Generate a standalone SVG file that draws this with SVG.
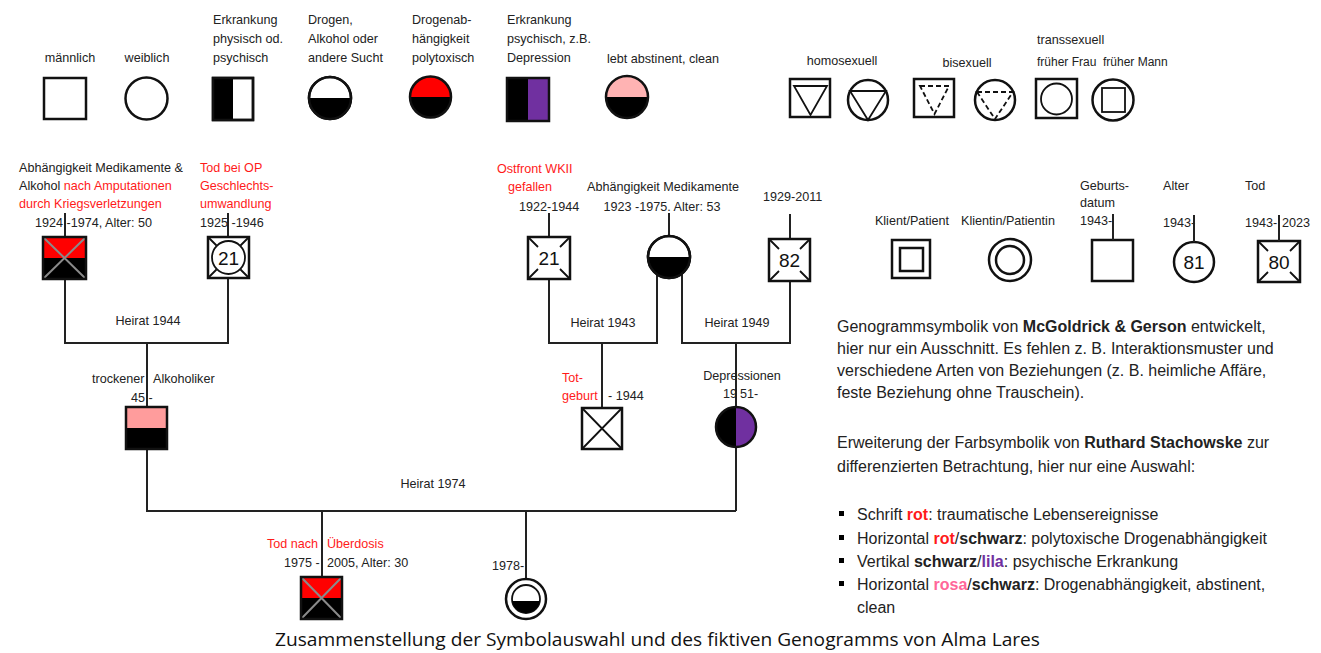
<svg xmlns="http://www.w3.org/2000/svg" width="1321" height="653" viewBox="0 0 1321 653">
<style>
.t{font-family:"Liberation Sans",Arial,sans-serif;font-size:12.6px;fill:#222}
.m{text-anchor:middle}
.r{fill:#ff1a1a}
.sm{font-size:12px}
.num{font-family:"Liberation Sans",Arial,sans-serif;font-size:19px;fill:#111;text-anchor:middle}
.sym{fill:#fff;stroke:#111;stroke-width:2.5}
.so{fill:none;stroke:#111;stroke-width:2.5}
.thin{fill:none;stroke:#111;stroke-width:1.8}
.dash{fill:none;stroke:#111;stroke-width:1.8;stroke-dasharray:5 3}
.ln{stroke:#222;stroke-width:2;fill:none}
.gx{stroke:#8a8a8a;stroke-width:2}
.blk{fill:#000}
.red{fill:#ff0000}
.pink{fill:#ffb3b3}
.pink2{fill:#ff9c9c}
.pur{fill:#7030a0}
.b{font-size:16px}
.bd{font-weight:bold}
</style>
<rect width="1321" height="653" fill="#fff"/>

<!-- Legend top -->
<g id="leg-maennlich">
<text class="t m" x="70" y="62">männlich</text>
<rect class="sym" x="44" y="78" width="42" height="41"/>
</g>
<g id="leg-weiblich">
<text class="t m" x="147" y="62">weiblich</text>
<circle class="sym" cx="146.5" cy="98.5" r="21"/>
</g>
<g id="leg-erkrankung">
<text class="t" x="213" y="24">Erkrankung</text>
<text class="t" x="213" y="43">physisch od.</text>
<text class="t" x="213" y="62">psychisch</text>
<rect class="sym" x="213" y="78" width="40" height="42"/>
<rect class="blk" x="213" y="78" width="20" height="42"/>
<rect class="so" x="213" y="78" width="40" height="42"/>
</g>
<g id="leg-sucht">
<text class="t" x="308" y="24">Drogen,</text>
<text class="t" x="308" y="43">Alkohol oder</text>
<text class="t" x="308" y="62">andere Sucht</text>
<circle class="sym" cx="330" cy="98" r="21"/>
<path class="blk" d="M309,98 A21,21 0 0 0 351,98 Z"/>
<circle class="so" cx="330" cy="98" r="21"/>
</g>
<g id="leg-polytox">
<text class="t" x="412" y="24">Drogenab-</text>
<text class="t" x="412" y="43">hängigkeit</text>
<text class="t" x="412" y="62">polytoxisch</text>
<path class="red" d="M410,97 A20.5,20.5 0 0 1 451,97 Z"/>
<path class="blk" d="M410,97 A20.5,20.5 0 0 0 451,97 Z"/>
<circle class="so" cx="430.5" cy="97" r="20.5"/>
</g>
<g id="leg-depression">
<text class="t" x="507" y="24">Erkrankung</text>
<text class="t" x="507" y="43">psychisch, z.B.</text>
<text class="t" x="507" y="62">Depression</text>
<rect class="blk" x="507" y="78" width="21" height="43"/>
<rect class="pur" x="528" y="78" width="21" height="43"/>
<rect class="so" x="507" y="78" width="42" height="43"/>
</g>
<g id="leg-abstinent">
<text class="t" x="607" y="63">lebt abstinent, clean</text>
<path class="pink" d="M606,97 A21,21 0 0 1 648,97 Z"/>
<path class="blk" d="M606,97 A21,21 0 0 0 648,97 Z"/>
<circle class="so" cx="627" cy="97" r="21"/>
</g>
<g id="leg-homo">
<text class="t m" x="842" y="65">homosexuell</text>
<rect class="sym" x="790" y="79" width="40" height="38"/>
<path class="thin" d="M794,86 L827,86 L810.5,115 Z"/>
<circle class="sym" cx="868" cy="100" r="20"/>
<path class="thin" d="M850,91 L886,91 L868,120 Z"/>
</g>
<g id="leg-bi">
<text class="t m" x="967" y="67">bisexuell</text>
<rect class="sym" x="914" y="79" width="40" height="38"/>
<path class="dash" d="M920,86 L949,86 L934.5,114 Z"/>
<circle class="sym" cx="995" cy="100" r="20"/>
<path class="dash" d="M977,92 L1013,92 L995,119 Z"/>
</g>
<g id="leg-trans">
<text class="t" x="1037" y="44">transsexuell</text>
<text class="t sm" x="1037" y="66">früher Frau</text>
<rect class="sym" x="1036" y="79" width="41" height="39"/>
<circle class="thin" cx="1056.5" cy="99" r="15.5"/>
<text class="t sm" x="1103" y="66">früher Mann</text>
<circle class="sym" cx="1113" cy="100" r="20.5"/>
<rect class="thin" x="1102" y="88" width="23" height="24"/>
</g>

<!-- Right legend -->
<g id="leg-klient">
<text class="t m" x="912" y="225">Klient/Patient</text>
<rect class="sym" x="892" y="240" width="38" height="38"/>
<rect class="so" x="900" y="248" width="23" height="23"/>
</g>
<g id="leg-klientin">
<text class="t m" x="1008" y="225">Klientin/Patientin</text>
<circle class="sym" cx="1010" cy="260" r="21"/>
<circle class="so" cx="1010" cy="260" r="14"/>
</g>
<g id="leg-geburt">
<text class="t" x="1080" y="190">Geburts-</text>
<text class="t" x="1080" y="207">datum</text>
<text class="t" x="1080" y="225">1943-</text>
<rect class="sym" x="1092" y="240" width="41" height="41"/>
</g>
<g id="leg-alter">
<text class="t" x="1163" y="190">Alter</text>
<text class="t" x="1163" y="227">1943-</text>
<circle class="sym" cx="1194" cy="262" r="20"/>
<text class="num" x="1194" y="269">81</text>
</g>
<g id="leg-tod">
<text class="t" x="1245" y="190">Tod</text>
<text class="t" x="1245" y="227">1943-<tspan x="1282">2023</tspan></text>
<rect class="sym" x="1258" y="241" width="42" height="41"/>
<path class="thin" d="M1258,241 L1268,251 M1300,241 L1290,251 M1258,282 L1268,272 M1300,282 L1290,272"/>
<text class="num" x="1279" y="269">80</text>
</g>

<!-- Connectors -->
<g id="connectors" class="ln">
<path d="M65,213 V237 M65,279 V343 H228 V278 M228,213 V237"/>
<path d="M147,343 V407 M147,449 V511 H736"/>
<path d="M322,511 V577 M526,511 V579"/>
<path d="M549,213 V237 M549,279 V343 H657 V274"/>
<path d="M669,213 V236"/>
<path d="M682,274 V343 H790 V281 M790,214 V239"/>
<path d="M602,343 V408"/>
<path d="M736,343 V407 M736,447 V511"/>
<path d="M1113,214 V240 M1194,215 V242 M1279,215 V241"/>
</g>

<!-- Family -->
<g id="n-grossvater-vater">
<text class="t" x="19" y="172">Abhängigkeit Medikamente &amp;</text>
<text class="t" x="19" y="190">Alkohol <tspan class="r">nach Amputationen</tspan></text>
<text class="t r" x="19" y="208">durch Kriegsverletzungen</text>
<text class="t" x="35" y="227">1924 -1974, Alter: 50</text>
<rect class="blk" x="43" y="237" width="43" height="42"/>
<rect class="red" x="43" y="237" width="43" height="21"/>
<path class="gx" d="M43,237 L86,279 M86,237 L43,279"/>
<rect class="so" x="43" y="237" width="43" height="42"/>
</g>
<g id="n-grossmutter-vater">
<text class="t r" x="200" y="172">Tod bei OP</text>
<text class="t r" x="200" y="190">Geschlechts-</text>
<text class="t r" x="200" y="208">umwandlung</text>
<text class="t" x="200" y="227">1925 -1946</text>
<rect class="sym" x="208" y="237" width="41" height="41"/>
<circle class="thin" cx="228.5" cy="257.5" r="16.5"/>
<path class="thin" d="M208,237 L216.5,245.5 M249,237 L240.5,245.5 M208,278 L216.5,269.5 M249,278 L240.5,269.5"/>
<text class="num" x="228.5" y="264.5">21</text>
</g>
<g id="m-heirat1944">
<text class="t m" x="148" y="325">Heirat 1944</text>
</g>
<g id="n-vater">
<text class="t" x="92" y="383">trockener<tspan x="153">Alkoholiker</tspan></text>
<text class="t" x="131" y="402">45 -</text>
<rect class="blk" x="126" y="407" width="41" height="42"/>
<rect class="pink2" x="126" y="407" width="41" height="21"/>
<rect class="so" x="126" y="407" width="41" height="42"/>
</g>
<g id="n-grossvater1-mutter">
<text class="t r" x="497" y="173">Ostfront WKII</text>
<text class="t r" x="508" y="191">gefallen</text>
<text class="t" x="519" y="211">1922-1944</text>
<rect class="sym" x="528" y="237" width="42" height="42"/>
<path class="thin" d="M528,237 L538,247 M570,237 L560,247 M528,279 L538,269 M570,279 L560,269"/>
<text class="num" x="549" y="265">21</text>
</g>
<g id="n-grossmutter-mutter">
<text class="t m" x="663" y="191">Abhängigkeit Medikamente</text>
<text class="t m" x="662" y="211">1923 -1975.  Alter: 53</text>
<circle class="sym" cx="669" cy="257" r="21"/>
<path class="blk" d="M648,257 A21,21 0 0 0 690,257 Z"/>
<circle class="so" cx="669" cy="257" r="21"/>
</g>
<g id="n-grossvater2-mutter">
<text class="t" x="763" y="201">1929-2011</text>
<rect class="sym" x="769" y="239" width="41" height="42"/>
<path class="thin" d="M769,239 L779,249 M810,239 L800,249 M769,281 L779,271 M810,281 L800,271"/>
<text class="num" x="789.5" y="267">82</text>
</g>
<g id="m-heirat1943">
<text class="t m" x="603" y="327">Heirat 1943</text>
</g>
<g id="m-heirat1949">
<text class="t m" x="737" y="327">Heirat 1949</text>
</g>
<g id="n-totgeburt">
<text class="t r" x="562" y="382">Tot-</text>
<text class="t r" x="562" y="400">geburt</text>
<text class="t" x="608" y="400">- 1944</text>
<rect class="sym" x="582" y="408" width="40" height="41"/>
<path class="thin" d="M582,408 L622,449 M622,408 L582,449"/>
</g>
<g id="n-mutter">
<text class="t m" x="742" y="380">Depressionen</text>
<text class="t" x="723" y="398">19<tspan x="740">51-</tspan></text>
<path class="blk" d="M736,407 A20,20 0 0 0 736,447 Z"/>
<path class="pur" d="M736,407 A20,20 0 0 1 736,447 Z"/>
<circle class="so" cx="736" cy="427" r="20"/>
</g>
<g id="m-heirat1974">
<text class="t m" x="433" y="488">Heirat 1974</text>
</g>
<g id="n-sohn">
<text class="t r" x="267" y="548">Tod nach<tspan x="327">Überdosis</tspan></text>
<text class="t" x="284" y="567">1975 -<tspan x="327">2005, Alter: 30</tspan></text>
<rect class="blk" x="301" y="577" width="41" height="42"/>
<rect class="red" x="301" y="577" width="41" height="21"/>
<path class="gx" d="M301,577 L342,619 M342,577 L301,619"/>
<rect class="so" x="301" y="577" width="41" height="42"/>
</g>
<g id="n-alma">
<text class="t" x="492" y="570">1978-</text>
<circle class="sym" cx="526" cy="599" r="20"/>
<circle class="thin" cx="526" cy="599" r="14"/>
<path class="blk" d="M512.14,601 A14,14 0 0 0 539.86,601 Z"/>
</g>

<!-- Text block -->
<g id="info">
<text class="t b" x="837" y="332">Genogrammsymbolik von <tspan class="bd">McGoldrick &amp; Gerson</tspan> entwickelt,</text>
<text class="t b" x="837" y="354">hier nur ein Ausschnitt. Es fehlen z. B. Interaktionsmuster und</text>
<text class="t b" x="837" y="376">verschiedene Arten von Beziehungen (z. B. heimliche Affäre,</text>
<text class="t b" x="837" y="398">feste Beziehung ohne Trauschein).</text>
<text class="t b" x="837" y="448">Erweiterung der Farbsymbolik von <tspan class="bd">Ruthard Stachowske</tspan> zur</text>
<text class="t b" x="837" y="472">differenzierten Betrachtung, hier nur eine Auswahl:</text>
<rect class="blk" x="839" y="511" width="5" height="5"/>
<rect class="blk" x="839" y="535" width="5" height="5"/>
<rect class="blk" x="839" y="558" width="5" height="5"/>
<rect class="blk" x="839" y="581" width="5" height="5"/>
<text class="t b" x="857" y="520">Schrift <tspan class="bd" fill="#ff1a1a">rot</tspan>: traumatische Lebensereignisse</text>
<text class="t b" x="857" y="544">Horizontal <tspan class="bd" fill="#ff1a1a">rot</tspan>/<tspan class="bd">schwarz</tspan>: polytoxische Drogenabhängigkeit</text>
<text class="t b" x="857" y="567">Vertikal <tspan class="bd">schwarz</tspan>/<tspan class="bd" fill="#7030a0">lila</tspan>: psychische Erkrankung</text>
<text class="t b" x="857" y="590">Horizontal <tspan class="bd" fill="#ff6699">rosa</tspan>/<tspan class="bd">schwarz</tspan>: Drogenabhängigkeit, abstinent,</text>
<text class="t b" x="857" y="613">clean</text>
</g>

<text id="caption" x="275" y="646" textLength="765" lengthAdjust="spacingAndGlyphs" style="font-family:'Open Sans','Noto Sans',sans-serif;font-size:18px;fill:#111">Zusammenstellung der Symbolauswahl und des fiktiven Genogramms von Alma Lares</text>
</svg>
